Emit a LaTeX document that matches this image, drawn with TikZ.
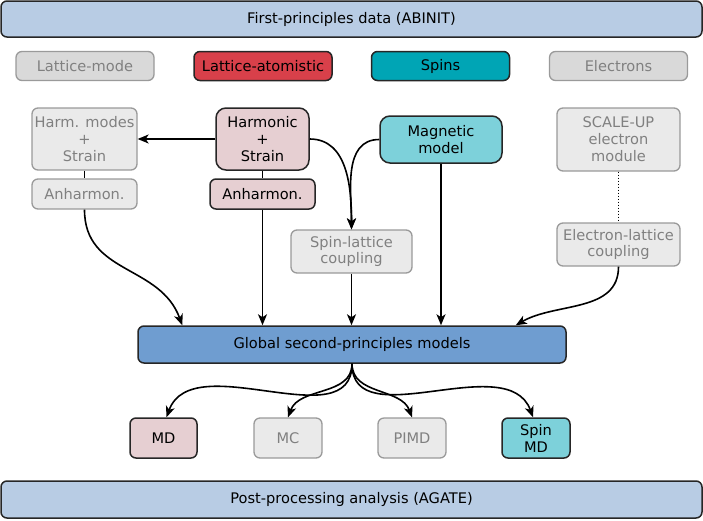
\documentclass[tikz,border=0pt]{standalone}
\usepackage{fontspec}
\setmainfont{DejaVu Sans}
\usetikzlibrary{arrows.meta}

\definecolor{barblue}{HTML}{B8CCE4}
\definecolor{globblue}{HTML}{6F9DD0}
\definecolor{latred}{HTML}{D8404A}
\definecolor{spinteal}{HTML}{00A5B5}
\definecolor{catgrey}{HTML}{D9D9D9}
\definecolor{boxgrey}{HTML}{EAEAEA}
\definecolor{linegrey}{HTML}{9A9A9A}
\definecolor{textgrey}{HTML}{808080}
\definecolor{harmpink}{HTML}{E6CFD2}
\definecolor{magcyan}{HTML}{7DD1DA}

\tikzset{
  box/.style={draw=black!85, line width=1.5pt, rounded corners=6pt, align=center,
    inner sep=0pt, text=black, font=\fontsize{14.6}{16.9}\selectfont},
  greybox/.style={box, draw=linegrey, line width=1.3pt, fill=boxgrey, text=textgrey},
  catbox/.style={box, minimum width=138pt, minimum height=29pt},
  bigbox/.style={box, rounded corners=10pt},
  flow/.style={line width=1.6pt, -{Stealth[length=11pt,width=9pt,inset=3pt]}},
  link/.style={line width=1.6pt}
}

\begin{document}
\begin{tikzpicture}[x=1pt, y=-1pt]
  \useasboundingbox (0,0) rectangle (703,520);

  % Bars
  \node[box, fill=barblue, minimum width=701pt, minimum height=36pt] (abinit) at (351.5,19) {First-principles data (ABINIT)};
  \node[box, fill=barblue, minimum width=701pt, minimum height=37pt] (agate) at (351.5,499.5) {Post-processing analysis (AGATE)};

  % Categories
  \node[catbox, greybox, fill=catgrey] (latmode) at (85,66) {Lattice-mode};
  \node[catbox, fill=latred] (latatom) at (263,66) {Lattice-atomistic};
  \node[catbox, fill=spinteal] (spins) at (440.5,66) {Spins};
  \node[catbox, greybox, fill=catgrey] (electrons) at (618.5,66) {Electrons};

  % Models
  \node[bigbox, greybox, minimum width=105pt, minimum height=62pt] (harmgrey) at (84.5,139) {Harm. modes\\+\\Strain};
  \node[greybox, minimum width=105pt, minimum height=30pt] (anhgrey) at (84.5,194) {Anharmon.};
  \node[bigbox, fill=harmpink, minimum width=93pt, minimum height=62pt] (harm) at (262.5,139) {Harmonic\\+\\Strain};
  \node[box, fill=harmpink, minimum width=105pt, minimum height=30pt] (anh) at (262.5,194) {Anharmon.};
  \node[bigbox, fill=magcyan, minimum width=122pt, minimum height=47pt] (mag) at (441,139.5) {Magnetic\\model};
  \node[bigbox, greybox, minimum width=123pt, minimum height=63pt] (scaleup) at (618.5,139.5) {SCALE-UP\\electron\\module};
  \node[bigbox, greybox, minimum width=121pt, minimum height=43pt] (spinlat) at (351.5,251.5) {Spin-lattice\\coupling};
  \node[bigbox, greybox, minimum width=123pt, minimum height=43pt] (elat) at (618.5,244.5) {Electron-lattice\\coupling};

  % Global model
  \node[box, fill=globblue, minimum width=428pt, minimum height=37pt] (global) at (352,344.5) {Global second-principles models};

  % Methods
  \node[box, fill=harmpink, minimum width=67pt, minimum height=40pt] (md) at (163.5,438) {MD};
  \node[greybox, minimum width=68pt, minimum height=40pt] (mc) at (288,438) {MC};
  \node[greybox, minimum width=68pt, minimum height=40pt] (pimd) at (412,438) {PIMD};
  \node[box, fill=magcyan, minimum width=68pt, minimum height=40pt] (spinmd) at (536,438) {Spin\\MD};

  % Connectors
  \draw[flow] (harm.west) -- (harmgrey.east);
  \draw[link] (harmgrey.south) -- (anhgrey.north);
  \draw[link] (harm.south) -- (anh.north);
  \draw[flow] (harm.east) to[out=0, in=90] (spinlat.north);
  \draw[flow] (mag.west) to[out=180, in=90] (spinlat.north);
  \draw[link, dash pattern=on 1.6pt off 1.4pt] (scaleup.south) -- (elat.north);

  \draw[flow] (anhgrey.south) to[out=-90, in=110, looseness=1.1] ([xshift=45pt]global.north west);
  \draw[flow] (anh.south) -- (anh.south |- global.north);
  \draw[flow] (spinlat.south) -- (spinlat.south |- global.north);
  \draw[flow] (mag.south) -- (mag.south |- global.north);
  \draw[flow] (elat.south) to[out=-90, in=30] ([xshift=-51pt]global.north east);

  \draw[flow] (global.south) to[out=-90, in=70] ([xshift=3pt]md.north);
  \draw[flow] (global.south) to[out=-90, in=70] (mc.north);
  \draw[flow] (global.south) to[out=-90, in=110] (pimd.north);
  \draw[flow] (global.south) to[out=-90, in=110] ([xshift=-3pt]spinmd.north);
\end{tikzpicture}
\end{document}
